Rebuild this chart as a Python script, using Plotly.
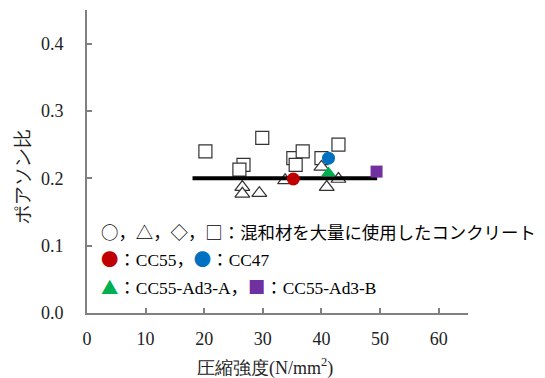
import plotly.graph_objects as go

# Concrete with a large amount of admixture (open markers)
sq_x = [20.2, 29.9, 26.7, 26.0, 35.2, 36.8, 35.6, 40.0, 42.9]
sq_y = [0.24, 0.26, 0.22, 0.213, 0.23, 0.24, 0.22, 0.23, 0.25]
tri_x = [26.5, 26.5, 29.4, 33.8, 40.0, 40.9, 42.9]
tri_y = [0.187, 0.177, 0.178, 0.197, 0.217, 0.187, 0.199]

# Reference mixes
cc55_x, cc55_y = [35.2], [0.199]
cc47_x, cc47_y = [41.2], [0.23]
ad3a_x, ad3a_y = [41.2], [0.208]
ad3b_x, ad3b_y = [49.4], [0.21]

# Mean Poisson's ratio line
mean_x = [18.0, 49.5]
mean_y = [0.2, 0.2]

x_ticks = [0, 10, 20, 30, 40, 50, 60]
y_ticks = [0.0, 0.1, 0.2, 0.3, 0.4]

x_title = "圧縮強度(N/mm<sup>2</sup>)"
y_title = "ポアソン比"

SERIF = "Liberation Serif"
CJK = "Noto Sans CJK JP"
AXIS_GRAY = "#808080"

fig = go.Figure()
fig.add_trace(go.Scatter(x=sq_x, y=sq_y, mode="markers",
                         marker=dict(symbol="square", size=13, color="white",
                                     line=dict(color="#333333", width=1.2))))
fig.add_trace(go.Scatter(x=tri_x, y=tri_y, mode="markers",
                         marker=dict(symbol="triangle-up", size=13, color="white",
                                     line=dict(color="#333333", width=1.2))))
fig.add_trace(go.Scatter(x=mean_x, y=mean_y, mode="lines",
                         line=dict(color="black", width=4)))
fig.add_trace(go.Scatter(x=cc55_x, y=cc55_y, mode="markers",
                         marker=dict(symbol="circle", size=13, color="#c00000")))
fig.add_trace(go.Scatter(x=cc47_x, y=cc47_y, mode="markers",
                         marker=dict(symbol="circle", size=13, color="#0070c0")))
fig.add_trace(go.Scatter(x=ad3a_x, y=ad3a_y, mode="markers",
                         marker=dict(symbol="triangle-up", size=13, color="#00b050")))
fig.add_trace(go.Scatter(x=ad3b_x, y=ad3b_y, mode="markers",
                         marker=dict(symbol="square", size=12, color="#7030a0")))


def cjk(ch, color="black"):
    return f"<span style=\"font-family:{CJK};color:{color}\">{ch}</span>"


# In-plot key (full-width symbols in the CJK face, names in serif)
legend_lines = [
    (cjk("○，△，◇，□：混和材を大量に使用したコンクリート"), 0.1204),
    (cjk("●", "#c00000") + cjk("：") + "CC55" + cjk("，") + cjk("●", "#0070c0") + cjk("：") + "CC47", 0.0803),
    (cjk("▲", "#00b050") + cjk("：") + "CC55-Ad3-A" + cjk("，") + cjk("■", "#7030a0") + cjk("：") + "CC55-Ad3-B", 0.0387),
]
for txt, yy in legend_lines:
    fig.add_annotation(x=2.0, y=yy, xref="x", yref="y", text=txt, showarrow=False,
                       xanchor="left", yanchor="middle",
                       font=dict(family=SERIF, size=17.4, color="black"))

# Axis titles
fig.add_annotation(x=30.3, y=0, xref="x", yref="paper", yshift=-54,
                   text=x_title, showarrow=False, xanchor="center", yanchor="middle",
                   font=dict(family=SERIF, size=18, color="#222222"))
fig.add_annotation(x=0, y=0.202, xref="paper", yref="y", xshift=-64,
                   text=y_title, textangle=-90, showarrow=False,
                   xanchor="center", yanchor="middle",
                   font=dict(family=SERIF, size=19, color="#222222"))

axis_common = dict(showline=True, linecolor=AXIS_GRAY, linewidth=2,
                   ticks="inside", ticklen=5, tickwidth=1.5, tickcolor=AXIS_GRAY,
                   showgrid=False, zeroline=False,
                   tickfont=dict(family=SERIF, size=18, color="#222222"))

fig.update_layout(
    width=545, height=378,
    margin=dict(l=87, r=77, t=10, b=65),
    paper_bgcolor="white", plot_bgcolor="white",
    showlegend=False,
    font=dict(family=SERIF),
    xaxis=dict(range=[0, 65], tickvals=x_ticks, ticklabelstandoff=8, **axis_common),
    yaxis=dict(range=[0, 0.45], tickvals=y_ticks, tickformat=".1f",
               ticklabelstandoff=18, **axis_common),
)

fig.write_html("out.html")
